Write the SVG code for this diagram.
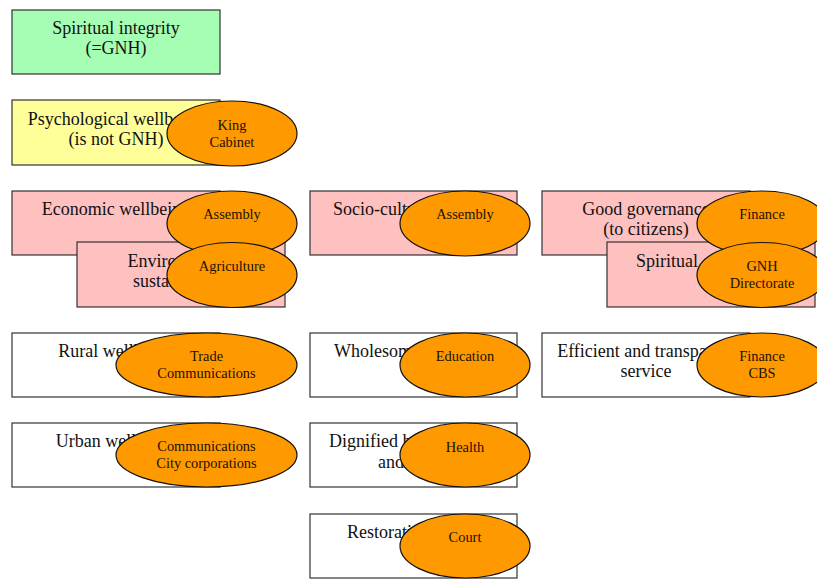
<svg xmlns="http://www.w3.org/2000/svg" width="817" height="579" viewBox="0 0 817 579">
<style>
.box{stroke:#333;stroke-width:1.2}
.g{fill:#a6fdb4}.y{fill:#ffff99}.p{fill:#ffc0c0}.w{fill:#fff}
.t{font-family:"Liberation Serif","Times New Roman",serif;font-size:18px;fill:#111}
.m{text-anchor:middle}
.e{fill:#ff9900;stroke:#111;stroke-width:1.2}
.et{font-family:"Liberation Serif","Times New Roman",serif;font-size:14.4px;fill:#221100;text-anchor:middle}
</style>
<rect width="817" height="579" fill="#fff"/>
<g id="connectors"/>
<g id="n-spiritual-integrity">
<rect class="box g" x="12" y="10" width="208" height="64"/>
<text class="t m" x="116" y="34">Spiritual integrity</text>
<text class="t m" x="116" y="54">(=GNH)</text>
</g>
<g id="n-psychological">
<rect class="box y" x="12" y="100" width="208" height="65"/>
<text class="t m" x="116" y="125">Psychological wellbeing</text>
<text class="t m" x="116" y="145">(is not GNH)</text>
</g>
<g id="n-economic">
<rect class="box p" x="12" y="191" width="208" height="64"/>
<text class="t m" x="116" y="215">Economic wellbeing</text>
</g>
<g id="n-environmental">
<rect class="box p" x="77" y="242" width="208" height="65"/>
<text class="t m" x="181" y="267">Environmental</text>
<text class="t m" x="181" y="287">sustainability</text>
</g>
<g id="n-sociocultural">
<rect class="box p" x="310" y="191" width="207" height="64"/>
<text class="t" x="333" y="215">Socio-cultural</text>
</g>
<g id="n-governance">
<rect class="box p" x="542" y="191" width="208" height="64"/>
<text class="t m" x="646" y="215">Good governance</text>
<text class="t m" x="646" y="235">(to citizens)</text>
</g>
<g id="n-spiritual">
<rect class="box p" x="607" y="242" width="208" height="65"/>
<text class="t" x="636" y="267">Spiritual</text>
</g>
<g id="n-rural">
<rect class="box w" x="12" y="333" width="208" height="64"/>
<text class="t m" x="116" y="357">Rural wellbeing</text>
</g>
<g id="n-urban">
<rect class="box w" x="12" y="423" width="208" height="64"/>
<text class="t m" x="116" y="447">Urban wellbeing</text>
</g>
<g id="n-wholesome">
<rect class="box w" x="310" y="333" width="207" height="64"/>
<text class="t" x="334" y="357">Wholesome</text>
</g>
<g id="n-dignified">
<rect class="box w" x="310" y="423" width="207" height="64"/>
<text class="t" x="329" y="447">Dignified health</text>
<text class="t" x="378" y="468">and</text>
</g>
<g id="n-restorative">
<rect class="box w" x="310" y="514" width="207" height="64"/>
<text class="t" x="347" y="538">Restorative</text>
</g>
<g id="n-efficient">
<rect class="box w" x="542" y="333" width="208" height="64"/>
<text class="t m" x="646" y="357">Efficient and transparent</text>
<text class="t m" x="646" y="377">service</text>
</g>
<g id="e-king">
<ellipse class="e" cx="232" cy="133.5" rx="65" ry="32.5"/>
<text class="et" x="232" y="130">King</text>
<text class="et" x="232" y="147">Cabinet</text>
</g>
<g id="e-assembly1">
<ellipse class="e" cx="232" cy="223.5" rx="65" ry="32.5"/>
<text class="et" x="232" y="219">Assembly</text>
</g>
<g id="e-agriculture">
<ellipse class="e" cx="232" cy="275" rx="65" ry="32.5"/>
<text class="et" x="232" y="271">Agriculture</text>
</g>
<g id="e-assembly2">
<ellipse class="e" cx="465" cy="223.5" rx="65" ry="32.5"/>
<text class="et" x="465" y="219">Assembly</text>
</g>
<g id="e-finance">
<ellipse class="e" cx="762" cy="223.5" rx="65" ry="32.5"/>
<text class="et" x="762" y="219">Finance</text>
</g>
<g id="e-gnh">
<ellipse class="e" cx="762" cy="275" rx="65" ry="32.5"/>
<text class="et" x="762" y="271">GNH</text>
<text class="et" x="762" y="288">Directorate</text>
</g>
<g id="e-trade">
<ellipse class="e" cx="206.5" cy="365" rx="90.5" ry="32"/>
<text class="et" x="206.5" y="361">Trade</text>
<text class="et" x="206.5" y="378">Communications</text>
</g>
<g id="e-city">
<ellipse class="e" cx="206.5" cy="455" rx="90.5" ry="32"/>
<text class="et" x="206.5" y="451">Communications</text>
<text class="et" x="206.5" y="468">City corporations</text>
</g>
<g id="e-education">
<ellipse class="e" cx="465" cy="365" rx="65" ry="32"/>
<text class="et" x="465" y="361">Education</text>
</g>
<g id="e-health">
<ellipse class="e" cx="465" cy="455" rx="65" ry="32"/>
<text class="et" x="465" y="452">Health</text>
</g>
<g id="e-court">
<ellipse class="e" cx="465" cy="546" rx="65" ry="32"/>
<text class="et" x="465" y="542">Court</text>
</g>
<g id="e-financecbs">
<ellipse class="e" cx="762" cy="365" rx="65" ry="32"/>
<text class="et" x="762" y="361">Finance</text>
<text class="et" x="762" y="378">CBS</text>
</g>
</svg>
